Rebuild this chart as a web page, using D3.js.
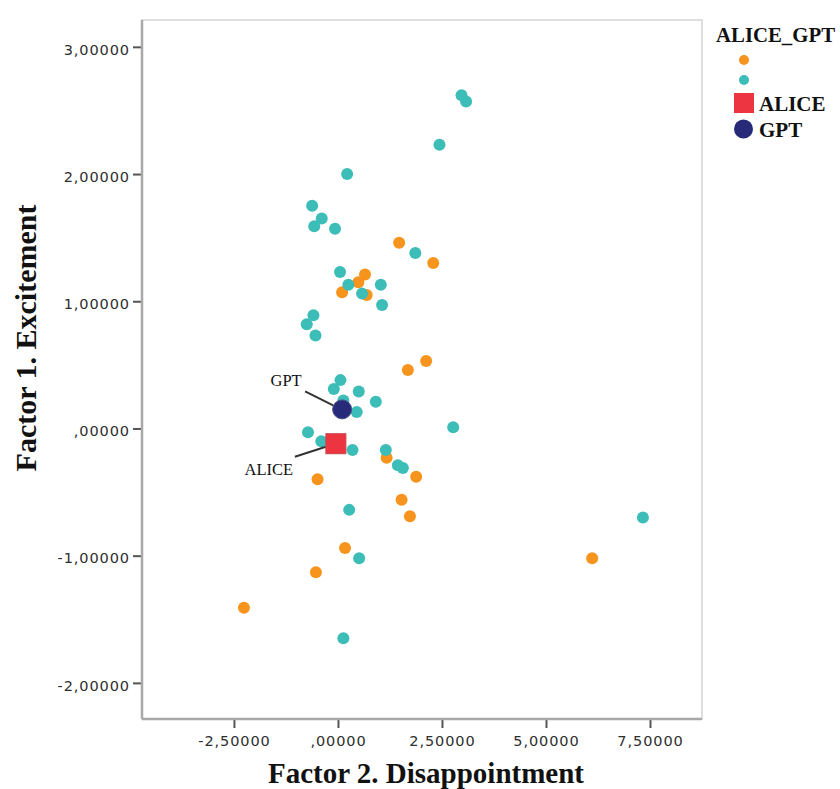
<!DOCTYPE html>
<html>
<head>
<meta charset="utf-8">
<script src="https://cdn.jsdelivr.net/npm/d3@7"></script>
<style>
	html, body { margin: 0; padding: 0; background: #fff; }
	svg { display: block; }
</style>
</head>
<body>
<div class="chart"></div>
<script>
// data
var orangeX = [1.47, 2.29, 0.65, 0.49, 0.10, 0.69, 2.12, 1.68, 1.17, 1.88, -0.49, 1.53, 1.73, 0.17, -0.53, -2.26, 6.11];
var orangeY = [1.46, 1.30, 1.21, 1.15, 1.07, 1.05, 0.53, 0.46, -0.23, -0.38, -0.40, -0.56, -0.69, -0.94, -1.13, -1.41, -1.02];

var tealX = [2.97, 3.08, 2.44, 0.22, -0.62, -0.39, -0.57, -0.07, 1.86, 0.05, 0.25, 1.03, 0.58, 1.06, -0.59, -0.75, -0.54,
	0.06, -0.10, 0.50, 0.91, 0.13, 0.45, 2.77, -0.72, -0.40, 0.35, 1.15, 1.56, 1.44, 0.27, 0.51, 0.13, 7.33];
var tealY = [2.62, 2.57, 2.23, 2.00, 1.75, 1.65, 1.59, 1.57, 1.38, 1.23, 1.13, 1.13, 1.06, 0.97, 0.89, 0.82, 0.73,
	0.38, 0.31, 0.29, 0.21, 0.22, 0.13, 0.01, -0.03, -0.10, -0.17, -0.17, -0.31, -0.29, -0.64, -1.02, -1.65, -0.70];

var centroidNames = ['ALICE', 'GPT'];
var centroidX = [-0.05, 0.10];
var centroidY = [-0.12, 0.15];

var xTicks = [-2.5, 0, 2.5, 5, 7.5];
var yTicks = [-2, -1, 0, 1, 2, 3];

(function() {
	'use strict';

	var width = 840,
		height = 789;

	var plot = { left: 142, right: 702, top: 20, bottom: 719 };

	var orange = '#f7941d',
		teal = '#3dbdb8',
		red = '#ec3540',
		navy = '#262a78';

	var serif = '"Liberation Serif", "Times New Roman", serif',
		sans = '"DejaVu Sans", Verdana, sans-serif';

	var x = d3.scaleLinear().domain([-4.71, 8.75]).range([plot.left, plot.right]);
	var y = d3.scaleLinear().domain([-2.284, 3.211]).range([plot.bottom, plot.top]);

	// SPSS style: comma decimal, no leading zero
	function fmt(v) {
		var s = d3.format('.5f')(Math.abs(v)).replace('.', ',');
		if (Math.abs(v) < 1) s = s.replace(/^0/, '');
		return (v < 0 ? '-' : '') + s;
	}

	var svg = d3.select('.chart').append('svg')
		.attr('width', width)
		.attr('height', height);

	// frame
	svg.append('rect')
		.attr('x', plot.left)
		.attr('y', plot.top)
		.attr('width', plot.right - plot.left)
		.attr('height', plot.bottom - plot.top)
		.attr('fill', '#fff')
		.attr('stroke', '#d4d4d4')
		.attr('stroke-width', 1.5);

	// axes
	var yAxis = svg.append('g')
		.attr('transform', 'translate(' + plot.left + ',0)')
		.call(d3.axisLeft(y).tickValues(yTicks).tickFormat(fmt).tickSize(9).tickPadding(3));

	var xAxis = svg.append('g')
		.attr('transform', 'translate(0,' + plot.bottom + ')')
		.call(d3.axisBottom(x).tickValues(xTicks).tickFormat(fmt).tickSize(9).tickPadding(8));

	[yAxis, xAxis].forEach(function(ax) {
		ax.select('.domain').remove();
		ax.selectAll('.tick line').attr('stroke', '#555').attr('stroke-width', 2);
		ax.selectAll('.tick text')
			.attr('fill', '#2e2e2e')
			.style('font-family', sans)
			.style('font-size', '14.5px')
			.style('letter-spacing', '0.9px');
	});
	yAxis.selectAll('.tick text').attr('dy', '0.5em');

	// darker left and bottom edges
	svg.append('line')
		.attr('x1', plot.left).attr('x2', plot.left)
		.attr('y1', plot.top).attr('y2', plot.bottom)
		.attr('stroke', '#a8a8a8').attr('stroke-width', 2.5);
	svg.append('line')
		.attr('x1', plot.left).attr('x2', plot.right)
		.attr('y1', plot.bottom).attr('y2', plot.bottom)
		.attr('stroke', '#a8a8a8').attr('stroke-width', 2.5);

	// axis titles
	svg.append('text')
		.attr('transform', 'translate(36,338) rotate(-90)')
		.attr('text-anchor', 'middle')
		.style('font-family', serif)
		.style('font-weight', 'bold')
		.style('font-size', '30px')
		.attr('fill', '#111')
		.text('Factor 1. Excitement');

	svg.append('text')
		.attr('x', 426)
		.attr('y', 783)
		.attr('text-anchor', 'middle')
		.style('font-family', serif)
		.style('font-weight', 'bold')
		.style('font-size', '29px')
		.attr('fill', '#111')
		.text('Factor 2. Disappointment');

	// points: orange first, teal on top
	var orangeData = orangeX.map(function(d, i) { return { x: d, y: orangeY[i] }; });
	var tealData = tealX.map(function(d, i) { return { x: d, y: tealY[i] }; });

	svg.append('g').selectAll('circle').data(orangeData)
		.enter().append('circle')
		.attr('cx', function(d) { return x(d.x); })
		.attr('cy', function(d) { return y(d.y); })
		.attr('r', 6)
		.attr('fill', orange);

	svg.append('g').selectAll('circle').data(tealData)
		.enter().append('circle')
		.attr('cx', function(d) { return x(d.x); })
		.attr('cy', function(d) { return y(d.y); })
		.attr('r', 6)
		.attr('fill', teal);

	// annotation leader lines + labels (offsets from the marker)
	var notes = [
		{ name: 'ALICE', dx1: -10, dy1: 3, dx2: -41, dy2: 13, tx: -67, ty: 31 },
		{ name: 'GPT', dx1: -9, dy1: -4, dx2: -37, dy2: -18, tx: -56, ty: -23 }
	];

	notes.forEach(function(n) {
		var i = centroidNames.indexOf(n.name);
		var cx = x(centroidX[i]),
			cy = y(centroidY[i]);
		svg.append('line')
			.attr('x1', cx + n.dx1).attr('y1', cy + n.dy1)
			.attr('x2', cx + n.dx2).attr('y2', cy + n.dy2)
			.attr('stroke', '#333').attr('stroke-width', 2);
		svg.append('text')
			.attr('x', cx + n.tx)
			.attr('y', cy + n.ty)
			.attr('text-anchor', 'middle')
			.style('font-family', serif)
			.style('font-size', '16.5px')
			.attr('fill', '#111')
			.text(n.name);
	});

	// centroids
	var ai = centroidNames.indexOf('ALICE'),
		gi = centroidNames.indexOf('GPT');

	svg.append('rect')
		.attr('x', x(centroidX[ai]) - 10)
		.attr('y', y(centroidY[ai]) - 10)
		.attr('width', 20)
		.attr('height', 20)
		.attr('fill', red)
		.attr('stroke', '#c9444c')
		.attr('stroke-width', 1);

	svg.append('circle')
		.attr('cx', x(centroidX[gi]))
		.attr('cy', y(centroidY[gi]))
		.attr('r', 9.5)
		.attr('fill', navy)
		.attr('stroke', '#4a4d8c')
		.attr('stroke-width', 1);

	// legend
	var legend = svg.append('g');

	legend.append('text')
		.attr('x', 716)
		.attr('y', 42)
		.attr('textLength', 119)
		.attr('lengthAdjust', 'spacingAndGlyphs')
		.style('font-family', serif)
		.style('font-weight', 'bold')
		.style('font-size', '21px')
		.attr('fill', '#111')
		.text('ALICE_GPT');

	legend.append('circle').attr('cx', 744).attr('cy', 60).attr('r', 5).attr('fill', orange);
	legend.append('circle').attr('cx', 744).attr('cy', 80).attr('r', 5).attr('fill', teal);
	legend.append('rect')
		.attr('x', 734).attr('y', 93).attr('width', 20).attr('height', 20)
		.attr('fill', red);
	legend.append('circle').attr('cx', 743.5).attr('cy', 129).attr('r', 9.5).attr('fill', navy);

	legend.selectAll('text.item').data(centroidNames)
		.enter().append('text')
		.attr('class', 'item')
		.attr('x', 759)
		.attr('y', function(d, i) { return 111 + i * 26; })
		.style('font-family', serif)
		.style('font-weight', 'bold')
		.style('font-size', '21px')
		.attr('fill', '#111')
		.text(function(d) { return d; });
})();
</script>
</body>
</html>
